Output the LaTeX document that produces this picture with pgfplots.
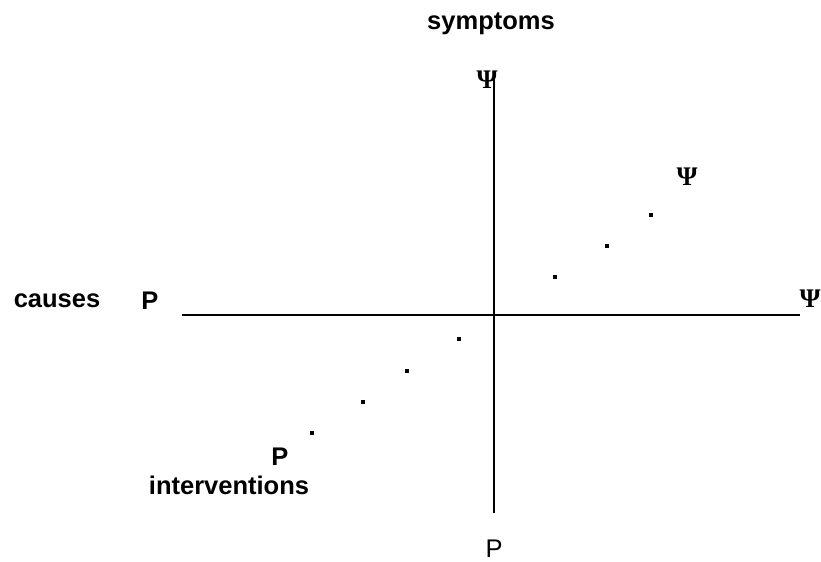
\documentclass[border=0pt]{standalone}
\usepackage{pgfplots}
\pgfplotsset{compat=1.18}
\usepackage{fontspec}
\setmainfont{Liberation Sans}
\newfontfamily\psifont{Liberation Serif}
\begin{document}
\begin{tikzpicture}
\begin{axis}[
  name=main,
  scale only axis, width=410.5bp, height=281bp,
  xmin=0, xmax=821, ymin=0, ymax=562,
  hide axis, clip=false,
]
% axes of the diagram
\addplot[black, line width=1bp] coordinates {(182,247) (800,247)};
\addplot[black, line width=1bp] coordinates {(494,487) (494,49)};
% dotted diagonals
\addplot[only marks, mark=square*, mark size=0.8bp, black] coordinates {(459,223) (407,191) (363,160) (312,129)};
\addplot[only marks, mark=square*, mark size=0.8bp, black] coordinates {(555,285) (607,316) (651,347)};
% labels
\node[anchor=base, font=\fontsize{12.8}{15}\selectfont\bfseries] at (axis cs:491,532) {symptoms};
\node[anchor=base, font=\fontsize{12.8}{15}\selectfont\bfseries] at (axis cs:57,254) {causes};
\node[anchor=base, font=\fontsize{12.8}{15}\selectfont\bfseries] at (axis cs:150,252) {P};
\node[anchor=base, font=\fontsize{12.8}{15}\selectfont\bfseries] at (axis cs:280,96) {P};
\node[anchor=base, font=\fontsize{12.8}{15}\selectfont\bfseries] at (axis cs:229,67) {interventions};
\node[anchor=base, inner sep=0pt, font=\fontsize{12.8}{15}\selectfont] at (axis cs:494,5) {P};
\node[anchor=base, font=\fontsize{13.5}{15}\selectfont\psifont\bfseries] at (axis cs:487,473) {Ψ};
\node[anchor=base, font=\fontsize{13.5}{15}\selectfont\psifont\bfseries] at (axis cs:687,376) {Ψ};
\node[anchor=base, inner sep=0pt, font=\fontsize{13.5}{15}\selectfont\psifont\bfseries] at (axis cs:810,254) {Ψ};
\end{axis}
\pgfresetboundingbox
\path (main.south west) rectangle (main.north east);
\end{tikzpicture}
\end{document}
